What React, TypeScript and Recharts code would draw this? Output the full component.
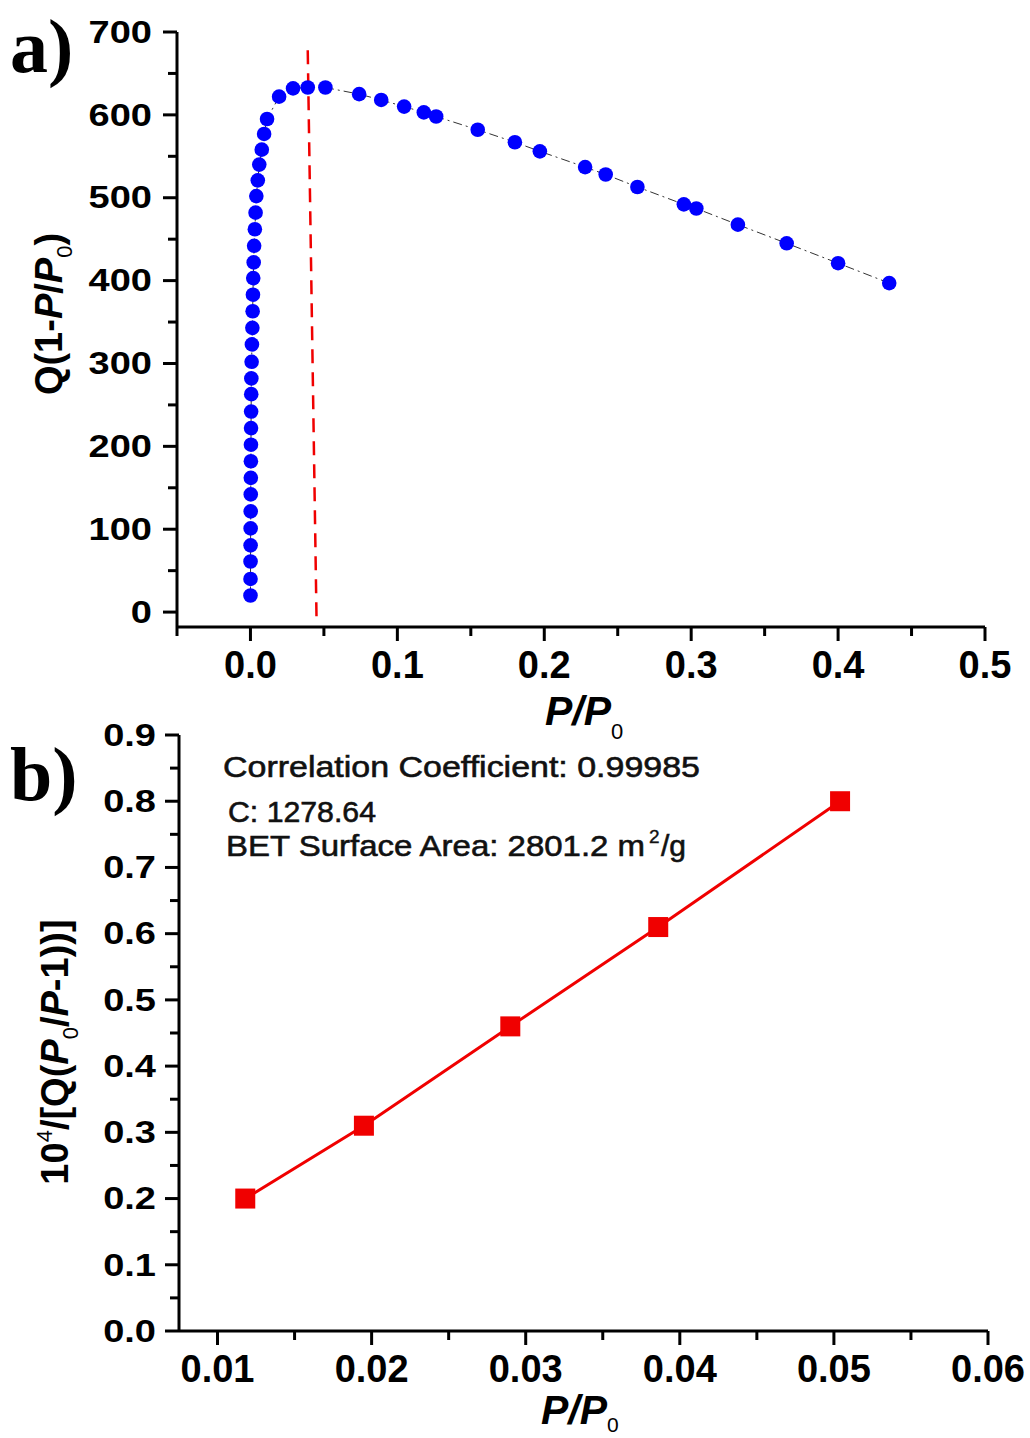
import React from 'react';
import { LineChart, Line, XAxis, YAxis, ReferenceLine } from 'recharts';

// (a) Rouquerol plot: P/P0 against Q(1-P/P0)
const isothermP = [
  0.00002, 0.00004, 0.00006, 0.0001, 0.00013, 0.00017, 0.0002, 0.00025, 0.0003, 0.00035,
  0.0004, 0.00046, 0.00053, 0.0006, 0.0008, 0.001, 0.0013, 0.0015, 0.0017, 0.0019,
  0.0022, 0.0025, 0.003, 0.0035, 0.004, 0.005, 0.006, 0.0077, 0.0093, 0.0113,
  0.0195, 0.029, 0.039, 0.051, 0.074, 0.089, 0.1046, 0.118, 0.1264, 0.1547,
  0.18, 0.197, 0.2278, 0.2418, 0.2634, 0.295, 0.3035, 0.3318, 0.365, 0.4, 0.4348,
];
const isothermQ = [
  20, 40, 61, 80.5, 101, 121.5, 142, 162, 182, 202,
  222, 242, 263, 282, 302, 323, 343, 363, 383, 403,
  422, 442, 462, 482, 502, 521, 540, 558, 577, 595,
  622, 632, 633, 633, 625, 618, 610, 603, 598, 582,
  567, 556, 537, 528, 513, 492, 487, 467.5, 445, 421, 397,
];
// upper limit of the BET pressure range
const limitLine = [
  { x: 0.039, y: 678 },
  { x: 0.045, y: -10 },
];

// (b) linear BET fit
const betP = [0.0118, 0.0195, 0.029, 0.0386, 0.0504];
const betY = [0.2, 0.31, 0.46, 0.61, 0.8];

// axis ticks
const topXMajor = [0, 0.1, 0.2, 0.3, 0.4, 0.5];
const topXMinor = [-0.05, 0.05, 0.15, 0.25, 0.35, 0.45];
const topYMajor = [0, 100, 200, 300, 400, 500, 600, 700];
const topYMinor = [50, 150, 250, 350, 450, 550, 650];
const botXMajor = [0.01, 0.02, 0.03, 0.04, 0.05, 0.06];
const botXMinor = [0.015, 0.025, 0.035, 0.045, 0.055];
const botYMajor = [0, 0.1, 0.2, 0.3, 0.4, 0.5, 0.6, 0.7, 0.8, 0.9];
const botYMinor = [0.05, 0.15, 0.25, 0.35, 0.45, 0.55, 0.65, 0.75, 0.85];

const FONT = '"Liberation Sans", Arial, sans-serif';
const SERIF = '"Liberation Serif", "Times New Roman", serif';
const BLUE = '#0000ff';
const RED = '#f00000';

const isothermData = isothermP.map((p, i) => ({ p, q: isothermQ[i] }));
const betData = betP.map((p, i) => ({ p, v: betY[i] }));

const sortTicks = (a: number[], b: number[]) => [...a, ...b].sort((m, n) => m - n);
const isIn = (list: number[], v: number) => list.some((m) => Math.abs(m - v) < 1e-9);

const leftTick = (majors: number[], fmt: (v: number) => string, gap: number) => (props: any) => {
  const { x, y, payload } = props;
  const v = payload.value as number;
  const major = isIn(majors, v);
  const len = major ? 14 : 9;
  return (
    <g>
      <line x1={x} y1={y} x2={x - len} y2={y} stroke="#000" strokeWidth={3} />
      {major && (
        <text
          transform={`translate(${x - gap},${y}) scale(1,0.82)`}
          textAnchor="end"
          dominantBaseline="central"
          fontFamily={FONT}
          fontWeight="bold"
          fontSize={38}
          fill="#000"
        >
          {fmt(v)}
        </text>
      )}
    </g>
  );
};

const bottomTick = (majors: number[], fmt: (v: number) => string) => (props: any) => {
  const { x, y, payload } = props;
  const v = payload.value as number;
  const major = isIn(majors, v);
  const len = major ? 14 : 9;
  return (
    <g>
      <line x1={x} y1={y} x2={x} y2={y + len} stroke="#000" strokeWidth={3} />
      {major && (
        <text x={x} y={y + 51} textAnchor="middle" fontFamily={FONT} fontWeight="bold" fontSize={38} fill="#000">
          {fmt(v)}
        </text>
      )}
    </g>
  );
};

const axisLine = { stroke: '#000', strokeWidth: 3 };

const RoundDot = (p: any) => <circle key={`d${p.index}`} cx={p.cx} cy={p.cy} r={7.3} fill={BLUE} />;
const SquareDot = (p: any) => (
  <rect key={`s${p.index}`} x={p.cx - 10} y={p.cy - 10} width={20} height={20} fill={RED} />
);

const noteStyle = { fontFamily: FONT, fontSize: 30, fill: '#111', stroke: '#111', strokeWidth: 0.6 };

export default function App() {
  return (
    <div style={{ position: 'absolute', left: 0, top: 0, width: 1030, height: 1438, background: '#fff' }}>
      <div style={{ position: 'absolute', left: 0, top: 0 }}>
        <LineChart width={1030} height={720} data={isothermData} margin={{ top: 32, right: 45, bottom: 33, left: 0 }}>
          <XAxis
            type="number"
            dataKey="p"
            domain={[-0.05, 0.5]}
            ticks={sortTicks(topXMajor, topXMinor)}
            interval={0}
            allowDataOverflow
            tickLine={false}
            tickSize={0}
            tickMargin={0}
            axisLine={axisLine}
            height={60}
            tick={bottomTick(topXMajor, (v) => v.toFixed(1))}
          />
          <YAxis
            type="number"
            domain={[-18, 700]}
            ticks={sortTicks(topYMajor, topYMinor)}
            interval={0}
            allowDataOverflow
            tickLine={false}
            tickSize={0}
            tickMargin={0}
            axisLine={axisLine}
            width={177}
            tick={leftTick(topYMajor, (v) => String(v), 25)}
          />
          <Line
            type="linear"
            dataKey="q"
            stroke="#333"
            strokeWidth={1}
            strokeDasharray="9 4 2 4"
            dot={RoundDot}
            activeDot={false}
            isAnimationActive={false}
          />
          <ReferenceLine segment={limitLine} stroke={RED} strokeWidth={2.5} strokeDasharray="14 9" />
        </LineChart>
      </div>

      <div style={{ position: 'absolute', left: 0, top: 700 }}>
        <LineChart width={1030} height={738} data={betData} margin={{ top: 35, right: 42, bottom: 47, left: 0 }}>
          <XAxis
            type="number"
            dataKey="p"
            domain={[0.0075, 0.06]}
            ticks={sortTicks(botXMajor, botXMinor)}
            interval={0}
            allowDataOverflow
            tickLine={false}
            tickSize={0}
            tickMargin={0}
            axisLine={axisLine}
            height={60}
            tick={bottomTick(botXMajor, (v) => v.toFixed(2))}
          />
          <YAxis
            type="number"
            domain={[0, 0.9]}
            ticks={sortTicks(botYMajor, botYMinor)}
            interval={0}
            allowDataOverflow
            tickLine={false}
            tickSize={0}
            tickMargin={0}
            axisLine={axisLine}
            width={179}
            tick={leftTick(botYMajor, (v) => v.toFixed(1), 23)}
          />
          <Line
            type="linear"
            dataKey="v"
            stroke={RED}
            strokeWidth={3}
            dot={SquareDot}
            activeDot={false}
            isAnimationActive={false}
          />
        </LineChart>
      </div>

      <svg
        width={1030}
        height={1438}
        style={{ position: 'absolute', left: 0, top: 0, pointerEvents: 'none' }}
      >
        {/* panel letters */}
        <text x={10} y={72} fontFamily={SERIF} fontWeight="bold" fontSize={76} fill="#000">a)</text>
        <text x={10} y={800} fontFamily={SERIF} fontWeight="bold" fontSize={76} fill="#000">b)</text>

        {/* axis titles, panel a */}
        <text x={545} y={725} fontFamily={FONT} fontWeight="bold" fontStyle="italic" fontSize={41} fill="#000">
          P/P<tspan fontStyle="normal" fontWeight="normal" fontSize={22} dy={14}>0</tspan>
        </text>
        <text
          transform="translate(62,314) rotate(-90)"
          textAnchor="middle"
          fontFamily={FONT}
          fontWeight="bold"
          fontSize={38}
          fill="#000"
        >
          Q(1-<tspan fontStyle="italic">P</tspan>/<tspan fontStyle="italic">P</tspan>
          <tspan fontWeight="normal" fontSize={22} dy={10}>0</tspan>
          <tspan dy={-10}>)</tspan>
        </text>

        {/* axis titles, panel b */}
        <text x={541} y={1424} fontFamily={FONT} fontWeight="bold" fontStyle="italic" fontSize={41} fill="#000">
          P/P<tspan fontStyle="normal" fontWeight="normal" fontSize={21} dy={8}>0</tspan>
        </text>
        <text
          transform="translate(68,1052) rotate(-90)"
          textAnchor="middle"
          fontFamily={FONT}
          fontWeight="bold"
          fontSize={38}
          fill="#000"
        >
          10<tspan fontWeight="normal" fontSize={22} dy={-16}>4</tspan>
          <tspan dy={16}>/[Q(</tspan>
          <tspan fontStyle="italic">P</tspan>
          <tspan fontWeight="normal" fontSize={22} dy={10}>0</tspan>
          <tspan dy={-10}>/</tspan>
          <tspan fontStyle="italic">P</tspan>-1))]
        </text>

        {/* BET fit results */}
        <text x={223} y={777} {...noteStyle} textLength={477} lengthAdjust="spacingAndGlyphs">
          Correlation Coefficient: 0.99985
        </text>
        <text x={228} y={822} {...noteStyle} textLength={148} lengthAdjust="spacingAndGlyphs">
          C: 1278.64
        </text>
        <text x={226} y={856} {...noteStyle} textLength={419} lengthAdjust="spacingAndGlyphs">
          BET Surface Area: 2801.2 m
        </text>
        <text x={649} y={843} {...noteStyle} fontSize={19} strokeWidth={0.4}>2</text>
        <text x={661} y={856} {...noteStyle}>/g</text>
      </svg>
    </div>
  );
}
